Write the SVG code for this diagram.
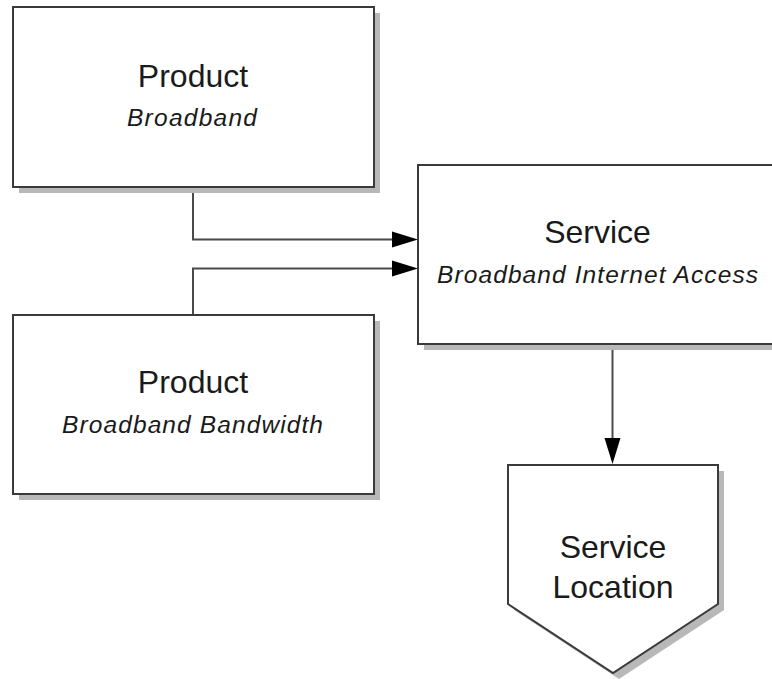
<svg xmlns="http://www.w3.org/2000/svg" width="772" height="679" viewBox="0 0 772 679">
<style>
.shadow{fill:#b8b8b8;stroke:none}
.box{fill:#ffffff;stroke:#3a3a3a;stroke-width:2}
.conn{fill:none;stroke:#4a4a4a;stroke-width:2}
.head{fill:#000000;stroke:none}
.t{font-family:"Liberation Sans",Arial,sans-serif;font-size:32px;fill:#1a1a1a;text-anchor:middle}
.s{font-family:"Liberation Sans",Arial,sans-serif;font-size:24.5px;font-style:italic;fill:#1a1a1a;text-anchor:middle}
</style>
<rect width="772" height="679" fill="#ffffff"/>
<g id="connectors">
<polyline class="conn" points="193,187 193,239.5 394,239.5"/>
<polygon class="head" points="392,231.5 418,239.5 392,247.5"/>
<polyline class="conn" points="193,315 193,268.5 394,268.5"/>
<polygon class="head" points="392,260.5 418,268.5 392,276.5"/>
<line class="conn" x1="612.5" y1="344" x2="612.5" y2="440"/>
<polygon class="head" points="604.5,438 620.5,438 612.5,464"/>
</g>
<g id="product-broadband">
<rect class="shadow" x="19" y="13" width="361" height="180"/>
<rect class="box" x="13" y="7" width="361" height="180"/>
<text class="t" x="193" y="87">Product</text>
<text class="s" x="192" y="126" textLength="130" lengthAdjust="spacing">Broadband</text>
</g>
<g id="product-bandwidth">
<rect class="shadow" x="19" y="321" width="361" height="179"/>
<rect class="box" x="13" y="315" width="361" height="179"/>
<text class="t" x="193" y="393">Product</text>
<text class="s" x="192.5" y="433" textLength="261" lengthAdjust="spacing">Broadband Bandwidth</text>
</g>
<g id="service">
<rect class="shadow" x="424" y="171" width="361" height="179"/>
<rect class="box" x="418" y="165" width="361" height="179"/>
<text class="t" x="597.5" y="243">Service</text>
<text class="s" x="597.5" y="283" textLength="321" lengthAdjust="spacing">Broadband Internet Access</text>
</g>
<g id="service-location">
<polygon class="shadow" points="514,471 724,471 724,610 619,679 514,610"/>
<polygon class="box" points="508,465 718,465 718,604 613,673 508,604"/>
<text class="t" x="613" y="558">Service</text>
<text class="t" x="613" y="598">Location</text>
</g>
</svg>
